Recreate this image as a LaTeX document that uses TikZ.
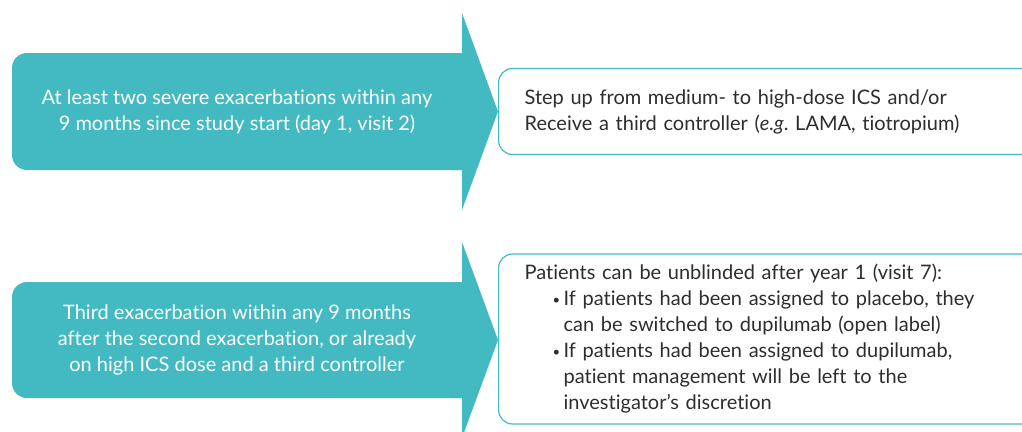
\documentclass[tikz,border=0pt]{standalone}
\usepackage{fontspec}
\setmainfont{Lato}[Ligatures=NoCommon]
\definecolor{aqua}{RGB}{67,185,193}
\definecolor{ink}{RGB}{45,45,48}
\usepackage{tikz}
\usetikzlibrary{positioning}

\newcommand{\bulletline}{\hspace*{28pt}\makebox[11pt][l]{\raisebox{1pt}{\fontsize{13}{13}\selectfont\textbullet}}}
\newcommand{\hangline}{\hspace*{39pt}}

\begin{document}
\begin{tikzpicture}[x=1pt, y=-1pt,
    cond/.style={text=white, align=center, font=\fontsize{20}{26}\selectfont},
    action/.style={draw=aqua, line width=1.2pt, rounded corners=14pt, text=ink,
      anchor=west, minimum width=540pt, text width=488pt, inner xsep=26pt,
      align=left, font=\fontsize{20}{26}\selectfont}]
        \useasboundingbox (0,0) rectangle (1022,431);
        % first trigger arrow
        \fill[aqua, rounded corners=15pt] (462,170) -- (12,170) -- (12,53) -- (462,53);
        \fill[aqua] (462,53) -- (462,13) -- (498,111.5) -- (462,210) -- (462,170) -- (450,170) -- (450,53) -- cycle;
        \node[cond] (trig1) at (237,111.5) {At least two severe exacerbations within any\\9 months since study start (day 1, visit 2)};
        \node[action, minimum height=86pt] (step1) at (498,111.5)
          {Step up from medium- to high-dose ICS and/or\\Receive a third controller (\textit{e.g}.\ LAMA, tiotropium)};
        % second trigger arrow
        \fill[aqua, rounded corners=15pt] (462,398) -- (12,398) -- (12,282) -- (462,282);
        \fill[aqua] (462,282) -- (462,242) -- (498,340) -- (462,438) -- (462,398) -- (450,398) -- (450,282) -- cycle;
        \node[cond] (trig2) at (237,340) {Third exacerbation within any 9 months\\after the second exacerbation, or already\\on high ICS dose and a third controller};
        \node[action, minimum height=170pt] (step2) at (498,339)
          {Patients can be unblinded after year 1 (visit 7):\\
           \bulletline If patients had been assigned to placebo, they\\
           \hangline can be switched to dupilumab (open label)\\
           \bulletline If patients had been assigned to dupilumab,\\
           \hangline patient management will be left to the\\
           \hangline investigator’s discretion};
      \end{tikzpicture}
\end{document}
